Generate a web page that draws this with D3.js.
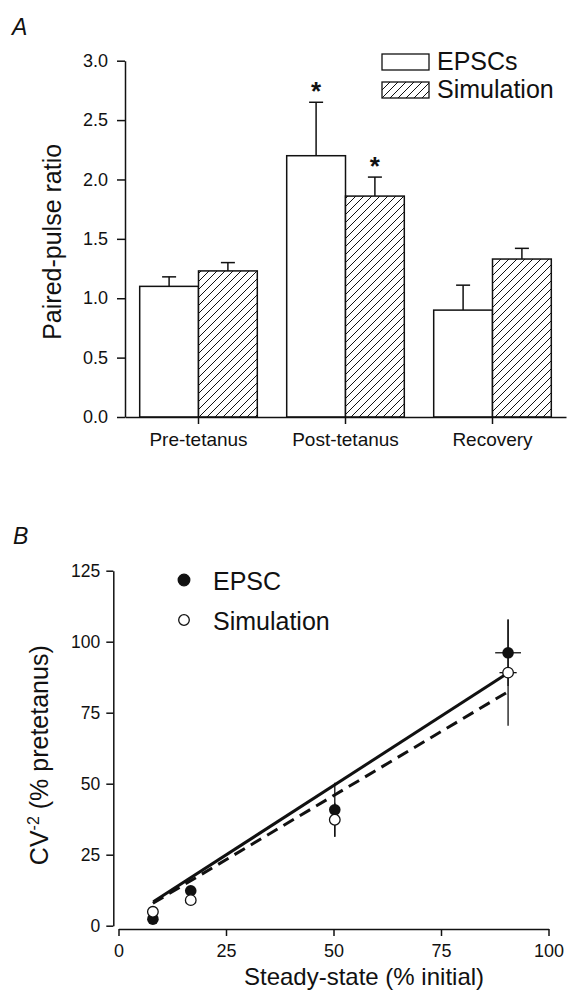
<!DOCTYPE html>
<html>
<head>
<meta charset="utf-8">
<script src="https://cdn.jsdelivr.net/npm/d3@7"></script>
<style>
body{margin:0;background:#fff}
svg{display:block}
text{font-family:"Liberation Sans",Arial,Helvetica,sans-serif;fill:#111}
</style>
</head>
<body>
<div id="fig"></div>
<script>
(function(){

var width = 569,
	height = 991,
	ink = "#111";

// panel A : paired-pulse ratio

var conditions = ["Pre-tetanus","Post-tetanus","Recovery"],
	seriesA = ["EPSCs","Simulation"],
	epscRatio = [1.10, 2.20, 0.90],
	epscRatioErr = [0.08, 0.45, 0.21],
	simRatio = [1.23, 1.86, 1.33],
	simRatioErr = [0.07, 0.16, 0.09],
	starred = ["Post-tetanus"],
	ticksA = [0, 0.5, 1.0, 1.5, 2.0, 2.5, 3.0];

// panel B : CV^-2 against steady-state

var steadyState = [8.0, 16.8, 50.3, 90.6],
	epscCV = [2.3, 12.3, 40.8, 96.1],
	epscCVErr = [0, 0, 9.5, 11.7],
	epscSSErr = [0, 0, 0, 3.0],
	simCV = [4.9, 9.0, 37.3, 89.1],
	simCVErr = [0, 0, 6.0, 18.7],
	simSSErr = [0, 0, 0, 2.0],
	fitEPSC = [[8.1, 8.4], [90.3, 88.7]],
	fitSim = [[8.0, 7.9], [90.6, 82.4]],
	seriesB = ["EPSC","Simulation"],
	ticksBx = [0, 25, 50, 75, 100],
	ticksBy = [0, 25, 50, 75, 100, 125];

var svg = d3.select("#fig").append("svg")
	.attr("width",width)
	.attr("height",height)

var defs = svg.append("defs");

var hatch = defs.append("pattern")
	.attr("id","hatch")
	.attr("patternUnits","userSpaceOnUse")
	.attr("width",8)
	.attr("height",8)
hatch.append("rect").attr("width",8).attr("height",8).attr("fill","#fff")
hatch.append("path")
	.attr("d","M-2,2 l4,-4 M0,8 l8,-8 M6,10 l4,-4")
	.attr("stroke",ink)
	.attr("stroke-width",1)

function styleAxis(g,size){
	g.selectAll(".domain").attr("stroke",ink).attr("stroke-width",1.5)
	g.selectAll(".tick line").attr("stroke",ink).attr("stroke-width",1.5)
	g.selectAll(".tick text").attr("fill",ink).style("font-size",size+"px")
		.style("font-family","'Liberation Sans',Arial,sans-serif")
}

/////////////////////////////////////////
// panel A

var yA = d3.scaleLinear().domain([0,3]).range([417,60.7]);
var xA = d3.scaleBand().domain(conditions).range([125,566]).paddingInner(0.2).paddingOuter(0.1);
var xSub = d3.scaleBand().domain(seriesA).range([0,xA.bandwidth()]);

var barsA = conditions.map(function(c,i){
	return [
		{cond:c, series:"EPSCs", value:epscRatio[i], err:epscRatioErr[i]},
		{cond:c, series:"Simulation", value:simRatio[i], err:simRatioErr[i]}
	]
}).flat();

var gA = svg.append("g");

gA.append("text")
	.attr("x",12).attr("y",35)
	.style("font-size","23px").style("font-style","italic")
	.text("A")

var bars = gA.selectAll(".bar").data(barsA).enter().append("g").attr("class","bar");

// error bars first, bars drawn over their lower part
bars.append("line")
	.attr("x1",function(d){return xA(d.cond)+xSub(d.series)+xSub.bandwidth()/2})
	.attr("x2",function(d){return xA(d.cond)+xSub(d.series)+xSub.bandwidth()/2})
	.attr("y1",function(d){return yA(d.value)})
	.attr("y2",function(d){return yA(d.value+d.err)})
	.attr("stroke",ink).attr("stroke-width",1.5)

bars.append("line")
	.attr("x1",function(d){return xA(d.cond)+xSub(d.series)+xSub.bandwidth()/2-7})
	.attr("x2",function(d){return xA(d.cond)+xSub(d.series)+xSub.bandwidth()/2+7})
	.attr("y1",function(d){return yA(d.value+d.err)})
	.attr("y2",function(d){return yA(d.value+d.err)})
	.attr("stroke",ink).attr("stroke-width",1.5)

bars.append("rect")
	.attr("x",function(d){return xA(d.cond)+xSub(d.series)})
	.attr("y",function(d){return yA(d.value)})
	.attr("width",xSub.bandwidth())
	.attr("height",function(d){return yA(0)-yA(d.value)})
	.attr("fill",function(d){return d.series=="EPSCs" ? "#fff" : "url(#hatch)"})
	.attr("stroke",ink).attr("stroke-width",1.5)

bars.filter(function(d){return starred.indexOf(d.cond)>=0}).append("text")
	.attr("x",function(d){return xA(d.cond)+xSub(d.series)+xSub.bandwidth()/2})
	.attr("y",function(d){return yA(d.value+d.err)-2})
	.attr("text-anchor","middle")
	.style("font-size","26px").style("font-weight","bold")
	.text("*")

var yAxisA = gA.append("g")
	.attr("transform","translate(125,0)")
	.call(d3.axisLeft(yA).tickValues(ticksA).tickFormat(d3.format(".1f")).tickSizeInner(8).tickSizeOuter(0).tickPadding(9))
styleAxis(yAxisA,18)

var xAxisA = gA.append("g")
	.attr("transform","translate(0,"+yA(0)+")")
	.call(d3.axisBottom(xA).tickSizeInner(7).tickSizeOuter(0).tickPadding(9))
styleAxis(xAxisA,19)

gA.append("text")
	.attr("transform","translate(61,"+((yA(0)+yA(3))/2+3)+") rotate(-90)")
	.attr("text-anchor","middle")
	.style("font-size","25px")
	.text("Paired-pulse ratio")

// legend A
var legA = gA.selectAll(".legA").data(seriesA).enter().append("g")
	.attr("class","legA")
	.attr("transform",function(d,i){return "translate(382,"+(54+i*28)+")"})

legA.append("rect")
	.attr("width",47).attr("height",16)
	.attr("fill",function(d){return d=="EPSCs" ? "#fff" : "url(#hatch)"})
	.attr("stroke",ink).attr("stroke-width",1.3)

legA.append("text")
	.attr("x",55).attr("y",16)
	.style("font-size","25px")
	.text(function(d){return d})

/////////////////////////////////////////
// panel B

var xB = d3.scaleLinear().domain([0,100]).range([118.5,548.5]);
var yB = d3.scaleLinear().domain([0,125]).range([925.7,570.7]);

var pts = steadyState.map(function(s,i){
	return {
		x:s,
		epsc:epscCV[i], epscErr:epscCVErr[i], epscXErr:epscSSErr[i],
		sim:simCV[i], simErr:simCVErr[i], simXErr:simSSErr[i]
	}
});

var gB = svg.append("g");

gB.append("text")
	.attr("x",13).attr("y",544)
	.style("font-size","23px").style("font-style","italic")
	.text("B")

var line = d3.line().x(function(d){return xB(d[0])}).y(function(d){return yB(d[1])});

gB.append("path")
	.attr("d",line(fitEPSC))
	.attr("fill","none").attr("stroke",ink).attr("stroke-width",3)

gB.append("path")
	.attr("d",line(fitSim))
	.attr("fill","none").attr("stroke",ink).attr("stroke-width",3)
	.attr("stroke-dasharray","12,7")

// error bars
function errBars(key,errKey,xErrKey){
	var e = gB.append("g");
	e.selectAll(".v").data(pts.filter(function(d){return d[errKey]>0})).enter().append("line")
		.attr("x1",function(d){return xB(d.x)}).attr("x2",function(d){return xB(d.x)})
		.attr("y1",function(d){return yB(d[key]-d[errKey])})
		.attr("y2",function(d){return yB(d[key]+d[errKey])})
		.attr("stroke",ink).attr("stroke-width",1.3)
	e.selectAll(".h").data(pts.filter(function(d){return d[xErrKey]>0})).enter().append("line")
		.attr("x1",function(d){return xB(d.x-d[xErrKey])}).attr("x2",function(d){return xB(d.x+d[xErrKey])})
		.attr("y1",function(d){return yB(d[key])})
		.attr("y2",function(d){return yB(d[key])})
		.attr("stroke",ink).attr("stroke-width",1.3)
}
errBars("sim","simErr","simXErr")
errBars("epsc","epscErr","epscXErr")

gB.selectAll(".epsc").data(pts).enter().append("circle")
	.attr("cx",function(d){return xB(d.x)})
	.attr("cy",function(d){return yB(d.epsc)})
	.attr("r",5.8)
	.attr("fill",ink)

gB.selectAll(".sim").data(pts).enter().append("circle")
	.attr("cx",function(d){return xB(d.x)})
	.attr("cy",function(d){return yB(d.sim)})
	.attr("r",5.3)
	.attr("fill","#fff").attr("stroke",ink).attr("stroke-width",1.3)

var yAxisB = gB.append("g")
	.attr("transform","translate(113.3,0)")
	.call(d3.axisLeft(yB).tickValues(ticksBy).tickSizeInner(7).tickSizeOuter(0).tickPadding(6))
styleAxis(yAxisB,17.5)

var xAxisB = gB.append("g")
	.attr("transform","translate(0,929)")
	.call(d3.axisBottom(xB).tickValues(ticksBx).tickSizeInner(7).tickSizeOuter(0).tickPadding(8))
styleAxis(xAxisB,18)

var yTitle = gB.append("text")
	.attr("transform","translate(48,"+((yB(0)+yB(125))/2+7)+") rotate(-90)")
	.attr("text-anchor","middle")
	.style("font-size","25px")
yTitle.append("tspan").text("CV")
yTitle.append("tspan").attr("dy",-9).style("font-size","16px").text("-2")
yTitle.append("tspan").attr("dy",9).text(" (% pretetanus)")

gB.append("text")
	.attr("x",364).attr("y",985)
	.attr("text-anchor","middle")
	.style("font-size","24px")
	.text("Steady-state (% initial)")

// legend B
var legB = gB.selectAll(".legB").data(seriesB).enter().append("g")
	.attr("class","legB")
	.attr("transform",function(d,i){return "translate(184,"+(580+i*40)+")"})

legB.append("circle")
	.attr("r",function(d,i){return i==0 ? 5.8 : 5.3})
	.attr("fill",function(d,i){return i==0 ? ink : "#fff"})
	.attr("stroke",ink).attr("stroke-width",1.3)

legB.append("text")
	.attr("x",29).attr("y",10)
	.style("font-size","25px")
	.text(function(d){return d})

})()
</script>
</body>
</html>
